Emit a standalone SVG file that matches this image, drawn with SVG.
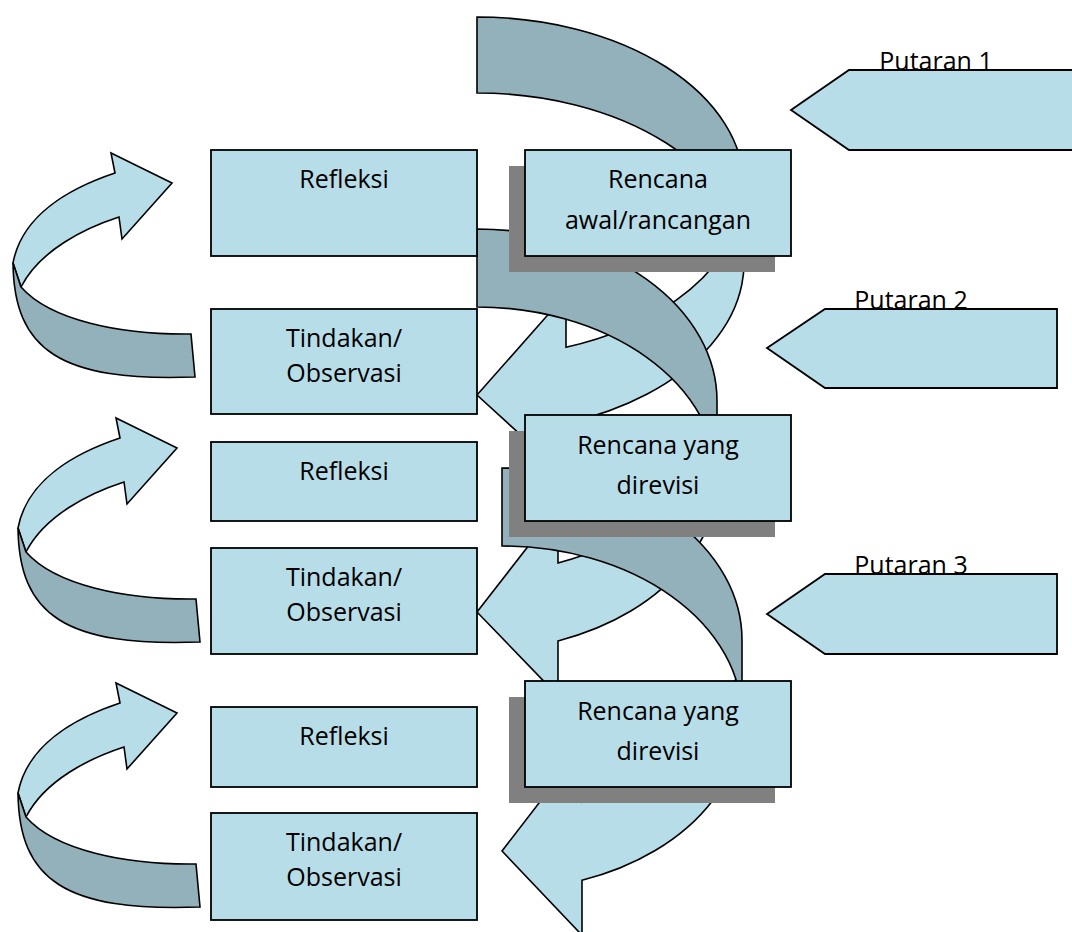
<svg xmlns="http://www.w3.org/2000/svg" width="1072" height="932" viewBox="0 0 1072 932">
<style>
.box{fill:#B7DDE8;stroke:#000;stroke-width:1.8}
.shadow{fill:#808080}
.light{fill:#B7DDE8;stroke:#000;stroke-width:1.6;stroke-linejoin:miter}
.dark{fill:#92B1BA;stroke:#000;stroke-width:1.6;stroke-linejoin:miter}
text{font-family:"Open Sans","Noto Sans",sans-serif;font-size:25px;fill:#000;text-anchor:middle}
</style>
<defs>
<g id="leftArrow">
<path class="light" d="M172,183 L111,153 L115,173 C70,188 22,215 13,263 L21,287 C40,250 85,228 119,217 L122,239 Z"/>
<path class="dark" d="M13,263 C14,350 60,382 195,377 L191,334 C120,335 50,320 21,287 Z"/>
</g>
</defs>
<rect width="1072" height="932" fill="#fff"/>
<g id="connectors">
<g id="loop-arrow-1"><use href="#leftArrow"/></g>
<g id="loop-arrow-2"><use href="#leftArrow" transform="translate(5,265)"/></g>
<g id="loop-arrow-3"><use href="#leftArrow" transform="translate(5,530)"/></g>
<g id="cycle-arrow-1">
<path class="light" d="M477,395 L566,294.3 L566,347.3 A267,170 0 0,0 737.2,225 A267,170 0 0,1 566,423.3 L566,476.3 Z"/>
<path class="dark" d="M477,17 A267,170 0 0,1 744,187 L744,263 A267,170 0 0,0 477,93 Z"/>
</g>
<g id="cycle-arrow-2">
<path class="light" d="M477,612 L558,507.9 L558,562.9 A240,172 0 0,0 710.75,440 A240,172 0 0,1 558,640.9 L558,695.9 Z"/>
<path class="dark" d="M477,229 A240,172 0 0,1 717,401 L717,479 A240,172 0 0,0 477,307 Z"/>
</g>
<g id="cycle-arrow-3">
<path class="light" d="M502,851 L582,747.2 L582,802.2 A240,172 0 0,0 735.75,679 A240,172 0 0,1 582,880.2 L582,935.2 Z"/>
<path class="dark" d="M502,468 A240,172 0 0,1 742,640 L742,718 A240,172 0 0,0 502,546 Z"/>
</g>
</g>
<g id="refleksi-1"><rect class="box" x="211" y="150" width="266" height="106"/><text x="344" y="188">Refleksi</text></g>
<g id="tindakan-1"><rect class="box" x="211" y="309" width="266" height="105"/><text x="344" y="347">Tindakan/</text><text x="344" y="382">Observasi</text></g>
<g id="refleksi-2"><rect class="box" x="211" y="442" width="266" height="79"/><text x="344" y="480">Refleksi</text></g>
<g id="tindakan-2"><rect class="box" x="211" y="548" width="266" height="106"/><text x="344" y="586">Tindakan/</text><text x="344" y="621">Observasi</text></g>
<g id="refleksi-3"><rect class="box" x="211" y="707" width="266" height="80"/><text x="344" y="745">Refleksi</text></g>
<g id="tindakan-3"><rect class="box" x="211" y="813" width="266" height="107"/><text x="344" y="851">Tindakan/</text><text x="344" y="886">Observasi</text></g>
<g id="rencana-awal"><rect class="shadow" x="509" y="166" width="266" height="106"/><rect class="box" x="525" y="150" width="266" height="106"/><text x="658" y="188">Rencana</text><text x="658" y="229">awal/rancangan</text></g>
<g id="rencana-revisi-1"><rect class="shadow" x="509" y="431" width="266" height="106"/><rect class="box" x="525" y="415" width="266" height="106"/><text x="658" y="454">Rencana yang</text><text x="658" y="494">direvisi</text></g>
<g id="rencana-revisi-2"><rect class="shadow" x="509" y="697" width="266" height="106"/><rect class="box" x="525" y="681" width="266" height="106"/><text x="658" y="720">Rencana yang</text><text x="658" y="760">direvisi</text></g>
<g id="putaran-1"><polygon class="box" points="791,110 849,70 1080,70 1080,150 849,150"/><text x="936" y="70">Putaran 1</text></g>
<g id="putaran-2"><polygon class="box" points="767,348 825,309 1057,309 1057,388 825,388"/><text x="911" y="309">Putaran 2</text></g>
<g id="putaran-3"><polygon class="box" points="767,614 825,574 1057,574 1057,654 825,654"/><text x="911" y="574">Putaran 3</text></g>
</svg>
